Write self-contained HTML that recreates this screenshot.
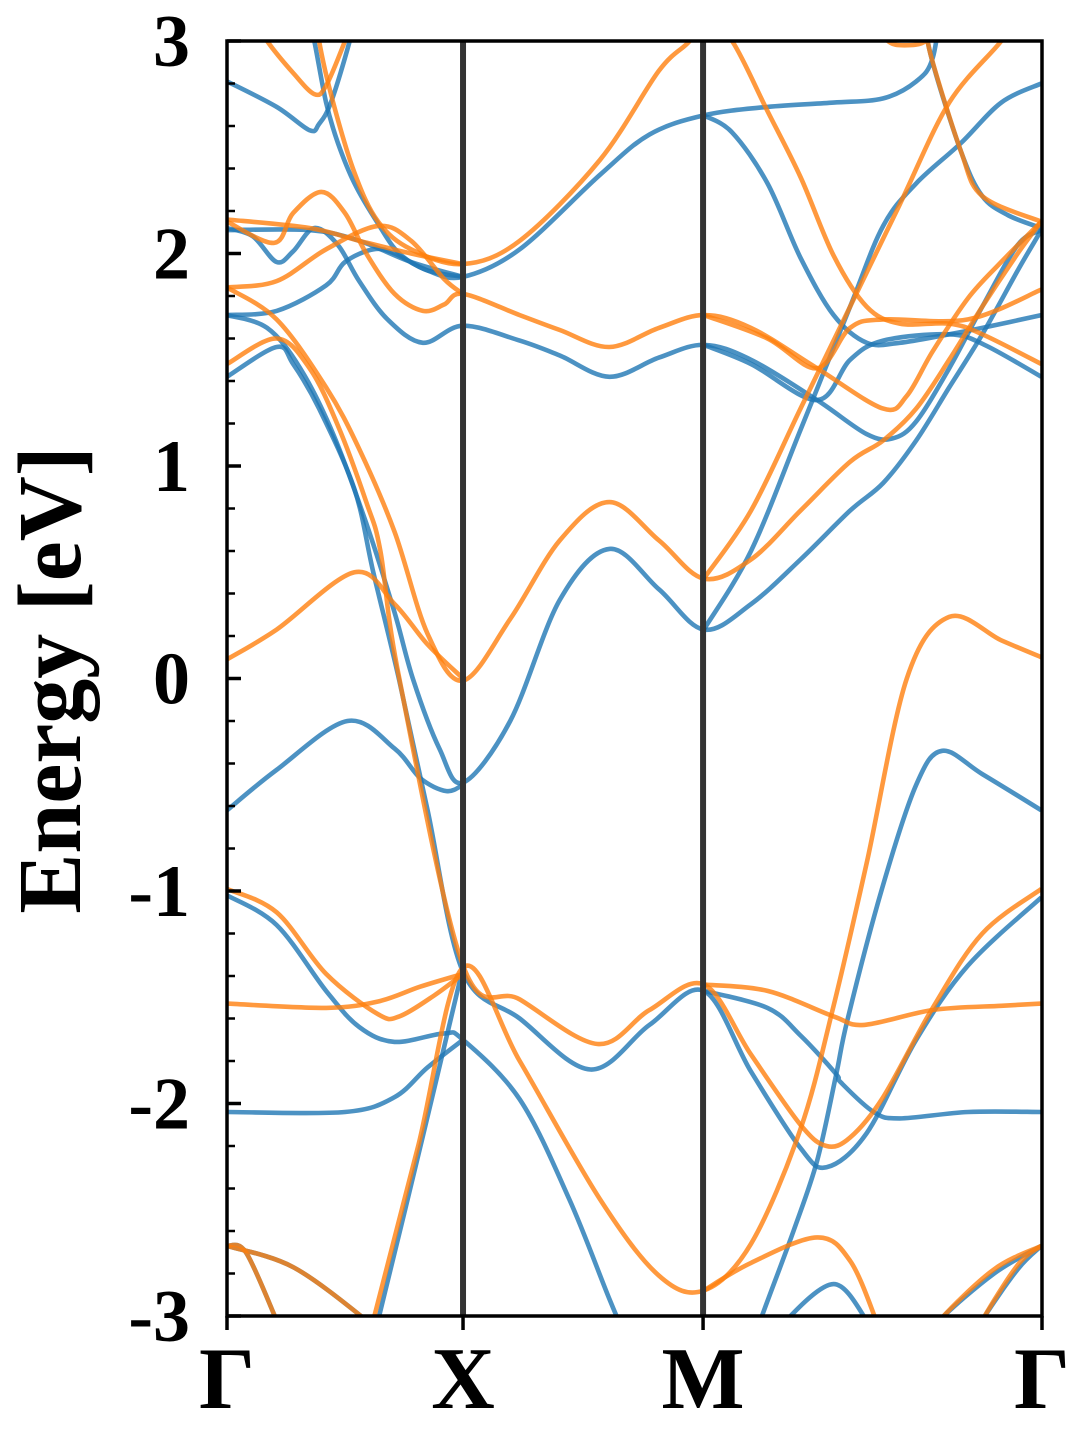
<!DOCTYPE html>
<html><head><meta charset="utf-8"><style>
html,body{margin:0;padding:0;background:#fff;}
svg{display:block;}
text{font-family:"Liberation Serif",serif;font-weight:bold;fill:#000;}
</style></head><body>
<svg id="chart" width="1080" height="1440" viewBox="0 0 1080 1440">
<defs><clipPath id="clip"><rect x="227" y="41" width="815" height="1275"/></clipPath></defs>
<g id="bands" clip-path="url(#clip)"></g>
<g id="axes"></g>
</svg>
<script>
const kTickPos = [0, 1.0, 2.017, 3.453];
const kTickLabels = ["Γ", "X", "M", "Γ"];
const yTickValues = [-3, -2, -1, 0, 1, 2, 3];
const yTickLabels = ["-3", "-2", "-1", "0", "1", "2", "3"];
const yMinorValues = [-2.8,-2.6,-2.4,-2.2,-1.8,-1.6,-1.4,-1.2,-0.8,-0.6,-0.4,-0.2,0.2,0.4,0.6,0.8,1.2,1.4,1.6,1.8,2.2,2.4,2.6,2.8];

const up1 = [[0,2.81],[0.21,2.69],[0.35,2.58],[0.39,2.61],[0.44,2.71],[0.52,3.0],[0.56,3.2]];
const up2 = [[0.33,3.2],[0.37,3.0],[0.42,2.71],[0.47,2.52],[0.54,2.33],[0.64,2.14],[0.73,2.0],[0.85,1.92],[1.0,1.89],[1.24,2.02],[1.58,2.37],[1.79,2.56],[2.02,2.65],[2.29,2.69],[2.57,2.71],[2.78,2.73],[2.92,2.81],[2.99,2.92],[3.03,3.2]];
const up3 = [[2.95,3.2],[2.98,2.94],[3.11,2.48],[3.20,2.27],[3.31,2.18],[3.45,2.12]];
const up4 = [[0,2.12],[0.11,2.08],[0.21,1.96],[0.28,2.01],[0.37,2.12],[0.47,2.04],[0.56,1.87],[0.68,1.69],[0.83,1.58],[1.0,1.66],[1.24,1.59],[1.41,1.52],[1.62,1.42],[1.83,1.51],[2.02,1.57],[2.22,1.50],[2.50,1.31],[2.71,1.15],[2.82,1.13],[2.92,1.21],[3.06,1.46],[3.20,1.75],[3.35,2.04],[3.45,2.11]];
const up5 = [[0,2.11],[0.35,2.11],[0.56,2.06],[0.78,1.96],[1.0,1.89]];
const up6 = [[0,1.71],[0.21,1.73],[0.42,1.85],[0.50,1.96],[0.62,2.02],[0.71,2.0],[0.85,1.92],[1.0,1.89]];
const up7 = [[0,1.42],[0.21,1.56],[0.28,1.48],[0.39,1.27],[0.54,0.89],[0.62,0.5],[0.73,-0.01],[0.85,-0.62],[1.0,-1.38],[1.24,-1.6],[1.54,-1.84],[1.79,-1.63],[2.02,-1.47],[2.22,-1.85],[2.43,-2.21],[2.54,-2.30],[2.71,-2.14],[2.92,-1.70],[3.14,-1.35],[3.45,-1.03]];
const up8 = [[0,1.71],[0.17,1.65],[0.31,1.46],[0.45,1.15],[0.59,0.73],[0.71,0.31],[0.79,-0.01],[0.90,-0.33],[1.0,-0.49],[1.20,-0.2],[1.41,0.37],[1.62,0.61],[1.83,0.42],[2.02,0.23],[2.22,0.35],[2.43,0.56],[2.64,0.79],[2.78,0.92],[2.92,1.12],[3.06,1.37],[3.20,1.62],[3.35,1.92],[3.45,2.11]];
const up9 = [[0,-0.62],[0.21,-0.43],[0.51,-0.20],[0.71,-0.33],[0.82,-0.47],[0.93,-0.53],[1.0,-0.50]];
const up10 = [[0,-1.02],[0.21,-1.16],[0.42,-1.47],[0.56,-1.64],[0.71,-1.71],[0.92,-1.67],[1.0,-1.70],[1.24,-1.98],[1.45,-2.45],[1.62,-2.92],[1.69,-3.1]];
const up11 = [[0,-2.04],[0.50,-2.04],[0.71,-1.97],[0.85,-1.83],[1.0,-1.70]];
const up12 = [[0,-2.67],[0.28,-2.77],[0.59,-3.02],[0.65,-3.1]];
const up13 = [[0,-2.67],[0.08,-2.70],[0.21,-3.02],[0.24,-3.1]];
const up14 = [[0.62,-3.1],[0.64,-3.02],[0.82,-2.2],[1.0,-1.36]];
const up15 = [[2.02,0.23],[2.22,0.60],[2.43,1.17],[2.64,1.75],[2.78,2.13],[2.92,2.33],[3.11,2.52],[3.28,2.71],[3.45,2.8]];
const up16 = [[2.02,2.65],[2.14,2.57],[2.29,2.33],[2.43,1.98],[2.57,1.71],[2.71,1.58],[2.85,1.58],[3.06,1.62],[3.20,1.65],[3.45,1.71]];
const up17 = [[2.02,1.57],[2.22,1.48],[2.50,1.31],[2.64,1.50],[2.78,1.59],[3.06,1.62],[3.21,1.57],[3.45,1.42]];
const up18 = [[2.02,-1.47],[2.29,-1.55],[2.43,-1.68],[2.58,-1.86],[2.60,-1.90],[2.74,-2.04],[2.85,-2.07],[3.14,-2.04],[3.45,-2.04]];
const up19 = [[2.24,-3.1],[2.26,-3.02],[2.40,-2.6],[2.50,-2.27],[2.58,-1.87],[2.63,-1.6],[2.78,-0.97],[2.92,-0.5],[3.03,-0.34],[3.20,-0.45],[3.45,-0.62]];
const up20 = [[2.35,-3.1],[2.37,-3.02],[2.57,-2.85],[2.71,-3.02],[2.74,-3.1]];
const up21 = [[3.0,-3.1],[3.02,-3.02],[3.25,-2.8],[3.45,-2.67]];
const up22 = [[3.18,-3.1],[3.20,-3.02],[3.35,-2.78],[3.45,-2.67]];
const spinUp = [up1,up2,up3,up4,up5,up6,up7,up8,up9,up10,up11,up12,up13,up14,up15,up16,up17,up18,up19,up20,up21,up22];

const dn1 = [[0.12,3.1],[0.17,3.0],[0.28,2.85],[0.37,2.75],[0.42,2.79],[0.50,3.0],[0.53,3.1]];
const dn2 = [[0.37,3.2],[0.39,3.0],[0.45,2.71],[0.54,2.38],[0.64,2.15],[0.78,2.02],[1.0,1.95],[1.24,2.06],[1.58,2.44],[1.83,2.86],[1.96,3.0],[2.02,3.12],[2.14,3.0],[2.29,2.67],[2.43,2.36],[2.57,1.99],[2.71,1.75],[2.85,1.67],[3.06,1.67],[3.20,1.62],[3.45,1.48]];
const dn3 = [[0,2.15],[0.20,2.05],[0.28,2.19],[0.40,2.29],[0.50,2.19],[0.59,2.0],[0.71,1.81],[0.83,1.73],[0.92,1.76],[1.0,1.81],[1.24,1.71],[1.41,1.64],[1.62,1.56],[1.83,1.65],[2.02,1.71],[2.22,1.65],[2.50,1.46],[2.78,1.27],[2.88,1.33],[2.99,1.54],[3.14,1.79],[3.28,1.96],[3.45,2.15]];
const dn4 = [[0,2.16],[0.35,2.12],[0.56,2.06],[0.78,2.0],[1.0,1.95]];
const dn5 = [[0,1.84],[0.21,1.87],[0.42,2.02],[0.64,2.13],[0.78,2.06],[0.92,1.88],[1.0,1.81]];
const dn6 = [[0,1.84],[0.21,1.69],[0.42,1.37],[0.56,1.08],[0.71,0.69],[0.85,0.21],[1.0,-0.01],[1.20,0.28],[1.41,0.65],[1.62,0.83],[1.83,0.65],[2.02,0.47],[2.22,0.56],[2.43,0.79],[2.64,1.02],[2.78,1.12],[2.92,1.27],[3.06,1.50],[3.20,1.75],[3.35,2.0],[3.45,2.15]];
const dn7 = [[0,1.48],[0.21,1.60],[0.35,1.46],[0.47,1.19],[0.59,0.83],[0.65,0.60],[0.73,0.0],[1.0,-1.35],[1.24,-1.51],[1.57,-1.72],[1.79,-1.56],[2.02,-1.44],[2.22,-1.77],[2.43,-2.10],[2.54,-2.20],[2.64,-2.16],[2.78,-1.97],[2.99,-1.55],[3.20,-1.2],[3.45,-0.99]];
const dn8 = [[0,0.09],[0.21,0.23],[0.54,0.50],[0.71,0.35],[0.85,0.16],[1.0,0.0]];
const dn9 = [[0,-0.99],[0.21,-1.1],[0.42,-1.39],[0.64,-1.58],[0.73,-1.59],[0.88,-1.49],[1.0,-1.39]];
const dn10 = [[0,-1.53],[0.42,-1.55],[0.64,-1.52],[0.82,-1.45],[1.0,-1.39]];
const dn11 = [[0,-2.67],[0.28,-2.77],[0.59,-3.02],[0.65,-3.1]];
const dn12 = [[0,-2.67],[0.08,-2.70],[0.21,-3.02],[0.24,-3.1]];
const dn13 = [[0.61,-3.1],[0.62,-3.02],[0.81,-2.2],[1.0,-1.36],[1.24,-1.8],[1.58,-2.45],[1.83,-2.81],[2.02,-2.88],[2.22,-2.66],[2.43,-2.12],[2.57,-1.54],[2.71,-0.87],[2.88,0.0],[3.06,0.29],[3.28,0.18],[3.45,0.10]];
const dn14 = [[2.02,0.47],[2.22,0.79],[2.43,1.27],[2.64,1.75],[2.85,2.23],[3.06,2.71],[3.28,3.0],[3.32,3.1]];
const dn15 = [[2.02,1.71],[2.29,1.60],[2.50,1.46],[2.64,1.65],[2.78,1.69],[3.14,1.69],[3.45,1.83]];
const dn16 = [[2.02,-1.44],[2.29,-1.47],[2.57,-1.59],[2.70,-1.63],[2.99,-1.56],[3.28,-1.54],[3.45,-1.53]];
const dn17 = [[2.02,-2.88],[2.22,-2.75],[2.50,-2.63],[2.64,-2.74],[2.75,-3.02],[2.77,-3.1]];
const dn18 = [[2.96,3.1],[2.98,2.94],[3.11,2.48],[3.20,2.27],[3.45,2.15]];
const dn19 = [[2.74,3.1],[2.80,3.0],[2.87,2.98],[2.96,3.0],[3.0,3.1]];
const dn20 = [[3.0,-3.1],[3.02,-3.02],[3.25,-2.78],[3.45,-2.67]];
const dn21 = [[3.18,-3.1],[3.20,-3.02],[3.35,-2.76],[3.45,-2.67]];
const spinDown = [dn1,dn2,dn3,dn4,dn5,dn6,dn7,dn8,dn9,dn10,dn11,dn12,dn13,dn14,dn15,dn16,dn17,dn18,dn19,dn20,dn21];

const X0 = 227, X1 = 1042, Y0 = 1316, Y1 = 41;
const K_MAX = kTickPos[kTickPos.length - 1], E_MIN = -3, E_MAX = 3;
function xScale(k){ return X0 + (k / K_MAX) * (X1 - X0); }
function yScale(e){ return Y0 - (e - E_MIN) / (E_MAX - E_MIN) * (Y0 - Y1); }
const NS = "http://www.w3.org/2000/svg";
function mk(tag, attrs){ const el = document.createElementNS(NS, tag); for (const a in attrs) el.setAttribute(a, attrs[a]); return el; }

function pathFor(band){
  const p = band.map(d => [xScale(d[0]), yScale(d[1])]);
  let s = "M" + p[0][0].toFixed(1) + "," + p[0][1].toFixed(1);
  for (let i = 0; i < p.length - 1; i++){
    const a = p[Math.max(i-1,0)], b = p[i], c = p[i+1], d = p[Math.min(i+2,p.length-1)];
    const c1x = b[0] + (c[0]-a[0])/6, c1y = b[1] + (c[1]-a[1])/6;
    const c2x = c[0] - (d[0]-b[0])/6, c2y = c[1] - (d[1]-b[1])/6;
    s += " C" + c1x.toFixed(1) + "," + c1y.toFixed(1) + " " + c2x.toFixed(1) + "," + c2y.toFixed(1) + " " + c[0].toFixed(1) + "," + c[1].toFixed(1);
  }
  return s;
}

const bandsG = document.getElementById("bands");
spinUp.forEach((b, i) => {
  const el = mk("path", {d: pathFor(b), fill: "none", stroke: "#1f77b4", "stroke-width": 4.6, "stroke-opacity": 0.8, "stroke-linejoin": "round"});
  
  
  bandsG.appendChild(el);
});
spinDown.forEach((b, i) => {
  const el = mk("path", {d: pathFor(b), fill: "none", stroke: "#ff7f0e", "stroke-width": 4.6, "stroke-opacity": 0.8, "stroke-linejoin": "round"});
  
  
  bandsG.appendChild(el);
});

const axesG = document.getElementById("axes");
[1, 2].forEach(i => {
  const x = xScale(kTickPos[i]);
  const el = mk("line", {x1: x, x2: x, y1: Y1, y2: Y0, stroke: "#333", "stroke-width": 6});
  
  
  axesG.appendChild(el);
});
const frame = mk("rect", {x: X0, y: Y1, width: X1 - X0, height: Y0 - Y1, fill: "none", stroke: "#000", "stroke-width": 3.5});


axesG.appendChild(frame);
yTickValues.forEach((v, i) => {
  const y = yScale(v);
  const t = mk("line", {x1: X0, x2: X0 + 14, y1: y, y2: y, stroke: "#000", "stroke-width": 3.5});
  
  
  axesG.appendChild(t);
  const lb = mk("text", {x: 190, y: y + 25, "text-anchor": "end", "font-size": 74});
  lb.textContent = yTickLabels[i];
  
  
  axesG.appendChild(lb);
});
yMinorValues.forEach(v => {
  const y = yScale(v);
  const t = mk("line", {x1: X0, x2: X0 + 8, y1: y, y2: y, stroke: "#000", "stroke-width": 2.5});
  
  
  axesG.appendChild(t);
});
kTickPos.forEach((k, i) => {
  const x = xScale(k);
  const t = mk("line", {x1: x, x2: x, y1: Y0, y2: Y0 + 14, stroke: "#000", "stroke-width": 3.5});
  
  
  axesG.appendChild(t);
  const lb = mk("text", {x: x, y: 1408, "text-anchor": "middle", "font-size": 88});
  lb.textContent = kTickLabels[i];
  
  
  axesG.appendChild(lb);
});
const yt = mk("text", {x: 0, y: 0, "text-anchor": "middle", "font-size": 90, transform: "translate(80,680) rotate(-90)"});
yt.textContent = "Energy [eV]";


axesG.appendChild(yt);
</script>
</body></html>
